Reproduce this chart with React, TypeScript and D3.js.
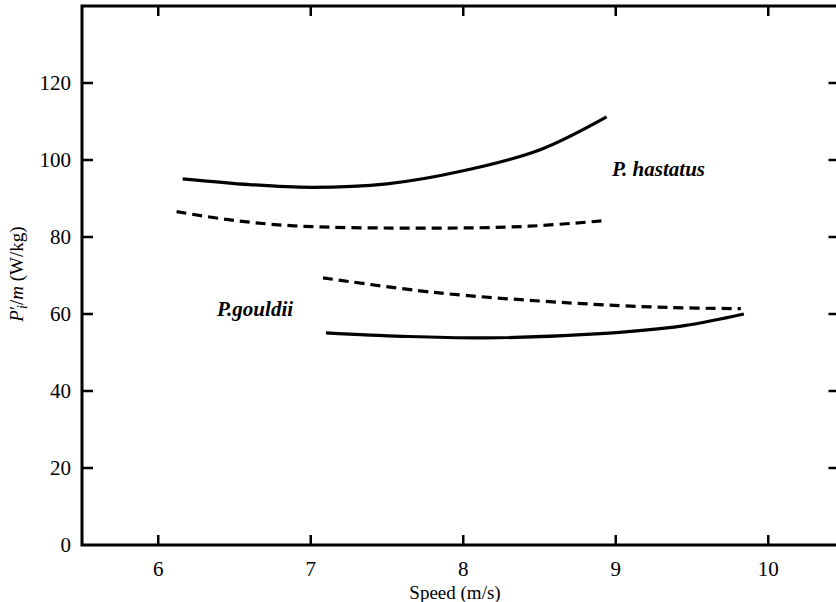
import React, { useEffect, useRef } from 'react';
import * as d3 from 'd3';

// speeds (m/s) and P'/m (W/kg)
const hastatusSolidX = [6.16, 6.6, 7.0, 7.5, 8.0, 8.5, 8.94];
const hastatusSolidY = [95.1, 93.6, 92.9, 93.8, 97.2, 102.6, 111.2];

const hastatusDashX = [6.12, 6.46, 6.89, 7.77, 8.43, 8.94];
const hastatusDashY = [86.6, 84.5, 82.9, 82.3, 82.8, 84.3];

const gouldiiDashX = [7.08, 7.81, 8.69, 9.34, 9.82];
const gouldiiDashY = [69.4, 65.6, 62.9, 61.7, 61.4];

const gouldiiSolidX = [7.1, 7.6, 8.15, 8.9, 9.45, 9.84];
const gouldiiSolidY = [55.1, 54.2, 53.8, 54.9, 57.0, 60.0];

const xTicks = [6, 7, 8, 9, 10];
const yTicks = [0, 20, 40, 60, 80, 100, 120];

const W = 836;
const H = 602;
const FONT = '"Liberation Serif", "DejaVu Serif", serif';

export default function App() {
  const svgRef = useRef<SVGSVGElement>(null);

  useEffect(() => {
    if (!svgRef.current) return;
    const svg = d3.select(svgRef.current);
    svg.selectAll('*').remove();

    const x = d3.scaleLinear().domain([5.5, 10.5]).range([82, 844.5]);
    const y = d3.scaleLinear().domain([0, 140]).range([545, 6]);

    const g = svg.append('g');

    // frame
    const [x0, x1] = x.range();
    const [y0, y1] = y.range();
    g.append('rect')
      .attr('x', x0).attr('y', y1)
      .attr('width', x1 - x0).attr('height', y0 - y1)
      .attr('fill', 'none').attr('stroke', '#000').attr('stroke-width', 3);

    // ticks on all four sides, pointing inward
    xTicks.forEach(t => {
      g.append('line').attr('x1', x(t)).attr('x2', x(t)).attr('y1', y0).attr('y2', y0 - 10)
        .attr('stroke', '#000').attr('stroke-width', 2.5);
      g.append('line').attr('x1', x(t)).attr('x2', x(t)).attr('y1', y1).attr('y2', y1 + 10)
        .attr('stroke', '#000').attr('stroke-width', 2.5);
      g.append('text').attr('x', x(t)).attr('y', 576)
        .attr('text-anchor', 'middle').attr('font-size', 21).attr('font-family', FONT)
        .text(t);
    });
    yTicks.forEach(t => {
      if (t > 0) {
        g.append('line').attr('x1', x0).attr('x2', x0 + 11).attr('y1', y(t)).attr('y2', y(t))
          .attr('stroke', '#000').attr('stroke-width', 2.5);
        g.append('line').attr('x1', x1).attr('x2', x1 - 16).attr('y1', y(t)).attr('y2', y(t))
          .attr('stroke', '#000').attr('stroke-width', 2.5);
      }
      g.append('text').attr('x', 71).attr('y', y(t) + 7)
        .attr('text-anchor', 'end').attr('font-size', 21).attr('font-family', FONT)
        .text(t);
    });

    // axis titles
    g.append('text').attr('x', 455).attr('y', 599)
      .attr('text-anchor', 'middle').attr('font-size', 19).attr('font-family', FONT)
      .text('Speed (m/s)');

    const yl = g.append('text')
      .attr('transform', 'translate(23,274) rotate(-90)')
      .attr('text-anchor', 'middle').attr('font-size', 19).attr('font-family', FONT);
    yl.append('tspan').attr('font-style', 'italic').text('P');
    yl.append('tspan').text('′');
    yl.append('tspan').attr('font-style', 'italic').attr('font-size', 14).attr('dy', 4).attr('dx', -3).text('i');
    yl.append('tspan').attr('dy', -4).text('/');
    yl.append('tspan').attr('font-style', 'italic').text('m');
    yl.append('tspan').text(' (W/kg)');

    // curves
    const line = d3.line<[number, number]>()
      .x(d => x(d[0]))
      .y(d => y(d[1]))
      .curve(d3.curveCatmullRom.alpha(0.5));

    const series = [
      { xs: hastatusSolidX, ys: hastatusSolidY, dash: null },
      { xs: hastatusDashX, ys: hastatusDashY, dash: '10,6' },
      { xs: gouldiiDashX, ys: gouldiiDashY, dash: '10,6' },
      { xs: gouldiiSolidX, ys: gouldiiSolidY, dash: null },
    ];
    series.forEach(s => {
      const pts = s.xs.map((v, i) => [v, s.ys[i]] as [number, number]);
      g.append('path')
        .attr('d', line(pts))
        .attr('fill', 'none')
        .attr('stroke', '#000')
        .attr('stroke-width', 3.2)
        .attr('stroke-dasharray', s.dash);
    });

    // species labels
    g.append('text').attr('x', 612).attr('y', 176)
      .attr('font-size', 21).attr('font-style', 'italic').attr('font-weight', 'bold')
      .attr('font-family', FONT).text('P. hastatus');
    g.append('text').attr('x', 217).attr('y', 316)
      .attr('font-size', 21).attr('font-style', 'italic').attr('font-weight', 'bold')
      .attr('font-family', FONT).text('P.gouldii');
  }, []);

  return (
    <svg
      ref={svgRef}
      width={W}
      height={H}
      style={{ position: 'absolute', left: 0, top: 0, background: '#fff' }}
    />
  );
}
